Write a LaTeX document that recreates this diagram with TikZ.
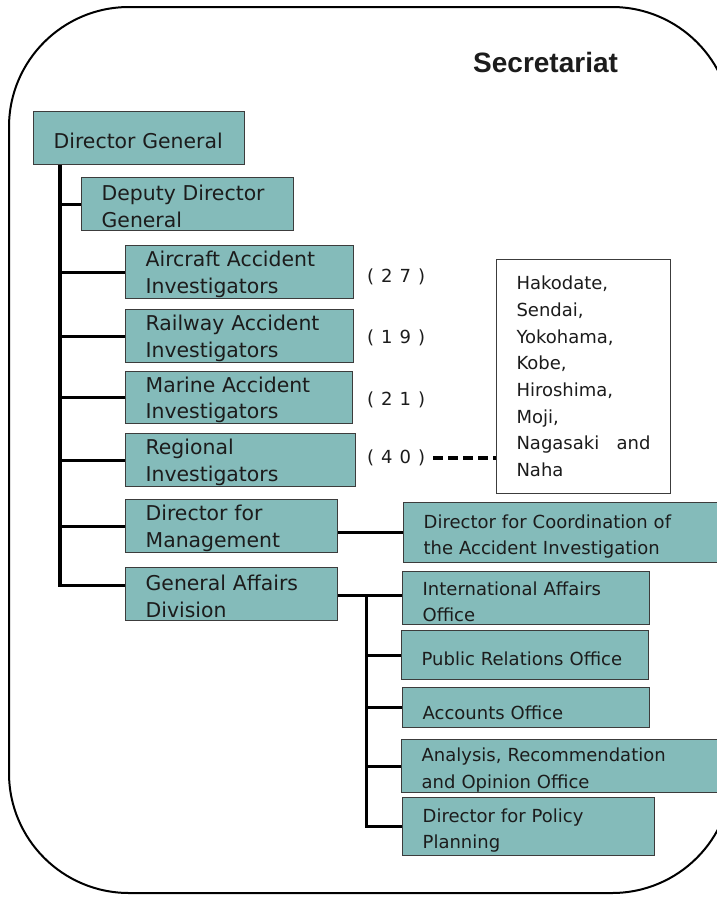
\documentclass[tikz,border=0pt]{standalone}
\usepackage{fontspec}
\setmainfont{DejaVu Sans}
\newfontfamily\secfont{Liberation Sans}
\definecolor{boxfill}{RGB}{132,187,186}
\definecolor{boxline}{RGB}{60,60,60}
\definecolor{txt}{RGB}{28,28,28}
\begin{document}
\begin{tikzpicture}[x=1pt,y=-1pt,
  box/.style={draw=boxline, line width=1.3pt, fill=boxfill, anchor=north west,
    inner xsep=20pt, inner ysep=0pt, align=left, text=txt,
    font=\fontsize{20.4}{26.5}\selectfont,
    execute at begin node={\rule{0pt}{20pt}}},
  rbox/.style={box, font=\fontsize{18}{26.5}\selectfont,
    execute at begin node={\rule{0pt}{21pt}}},
  conn/.style={line width=3.2pt, black},
  cnt/.style={anchor=west, text=txt, font=\fontsize{18}{20}\selectfont, inner sep=0pt},
  citybox/.style={draw=boxline, line width=1pt, fill=white, anchor=north west,
    inner xsep=20pt, inner ysep=0pt, align=left, text=txt,
    font=\fontsize{18}{26.7}\selectfont}]
\useasboundingbox (0,0) rectangle (716,897);
\fill[white] (0,0) rectangle (716,897);
\draw[line width=2pt, rounded corners=120pt] (9,7) rectangle (732,893);
\node[anchor=base west, inner sep=0pt, text=txt,
  font=\secfont\bfseries\fontsize{28}{30}\selectfont] (sec) at (473,72) {Secretariat};

% left column boxes
\node[box, text width=171pt, minimum height=53pt] (dg) at (33,111) {Director General};
\node[box, text width=172pt, minimum height=53pt] (dep) at (81,177) {Deputy Director\\General};
\node[box, text width=188pt, minimum height=53pt] (air) at (125,245) {Aircraft Accident\\Investigators};
\node[box, text width=188pt, minimum height=53pt] (rail) at (125,309) {Railway Accident\\Investigators};
\node[box, text width=187pt, minimum height=52pt] (mar) at (125,371) {Marine Accident\\Investigators};
\node[box, text width=190pt, minimum height=53pt] (reg) at (125,433) {Regional\\Investigators};
\node[box, text width=172pt, minimum height=53pt] (mgmt) at (125,499) {Director for\\Management};
\node[box, text width=172pt, minimum height=53pt] (ga) at (125,567) {General Affairs\\Division};

% counts
\node[cnt] (c27) at (367,277) {(\hspace{7pt}2\hspace{7pt}7\hspace{7pt})};
\node[cnt] (c19) at (367,338) {(\hspace{7pt}1\hspace{7pt}9\hspace{7pt})};
\node[cnt] (c21) at (367,400) {(\hspace{7pt}2\hspace{7pt}1\hspace{7pt})};
\node[cnt] (c40) at (367,458) {(\hspace{7pt}4\hspace{7pt}0\hspace{7pt})};

% city box
\node[citybox, text width=134pt, minimum height=234pt] (city) at (496,259)
  {Hakodate,\\Sendai,\\Yokohama,\\Kobe,\\Hiroshima,\\Moji,\\Nagasaki\hfill and\\Naha};

% right boxes
\node[rbox, text width=287pt, minimum height=60pt] (coord) at (403,502) {Director for Coordination of\\the Accident Investigation};
\node[rbox, text width=207pt, minimum height=53pt] (ia) at (402,571) {International Affairs\\Office};
\node[rbox, text width=207pt, minimum height=49pt] (pr) at (401,630) {Public Relations Office};
\node[rbox, text width=207pt, minimum height=40pt, execute at begin node={\rule{0pt}{24pt}}] (acc) at (402,687) {Accounts Office};
\node[rbox, text width=289pt, minimum height=53pt] (ana) at (401,739) {Analysis, Recommendation\\and Opinion Office};
\node[rbox, text width=212pt, minimum height=58pt] (pol) at (402,797) {Director for Policy\\Planning};

% trunk connectors
\coordinate (trunk) at ([xshift=27pt]dg.south west);
\coordinate (gaj) at ([yshift=9pt]ga.west);
\draw[conn] (trunk) |- (dep.west);
\draw[conn] (trunk) |- (air.west);
\draw[conn] (trunk) |- (rail.west);
\draw[conn] (trunk) |- (mar.west);
\draw[conn] (trunk) |- (reg.west);
\draw[conn] (trunk) |- (mgmt.west);
\draw[conn] (trunk) |- (gaj);

% management to coordination
\draw[conn] (mgmt.east |- coord.west) -- (coord.west);

% general affairs tree
\coordinate (gaout) at ([yshift=-1pt]ga.east);
\coordinate (gtrunk) at ([xshift=28pt]gaout);
\draw[conn] (gaout) -- (gaout -| ia.west);
\draw[conn] (gtrunk) |- (pr.west);
\draw[conn] (gtrunk) |- (acc.west);
\draw[conn] (gtrunk) |- (ana.west);
\draw[conn] (gtrunk) |- (pol.west);

% dashed link to regional offices
\draw[line width=3.5pt, dash pattern=on 10pt off 5pt] ([xshift=8pt]c40.east) -- (c40.east -| city.west);
\end{tikzpicture}
\end{document}
